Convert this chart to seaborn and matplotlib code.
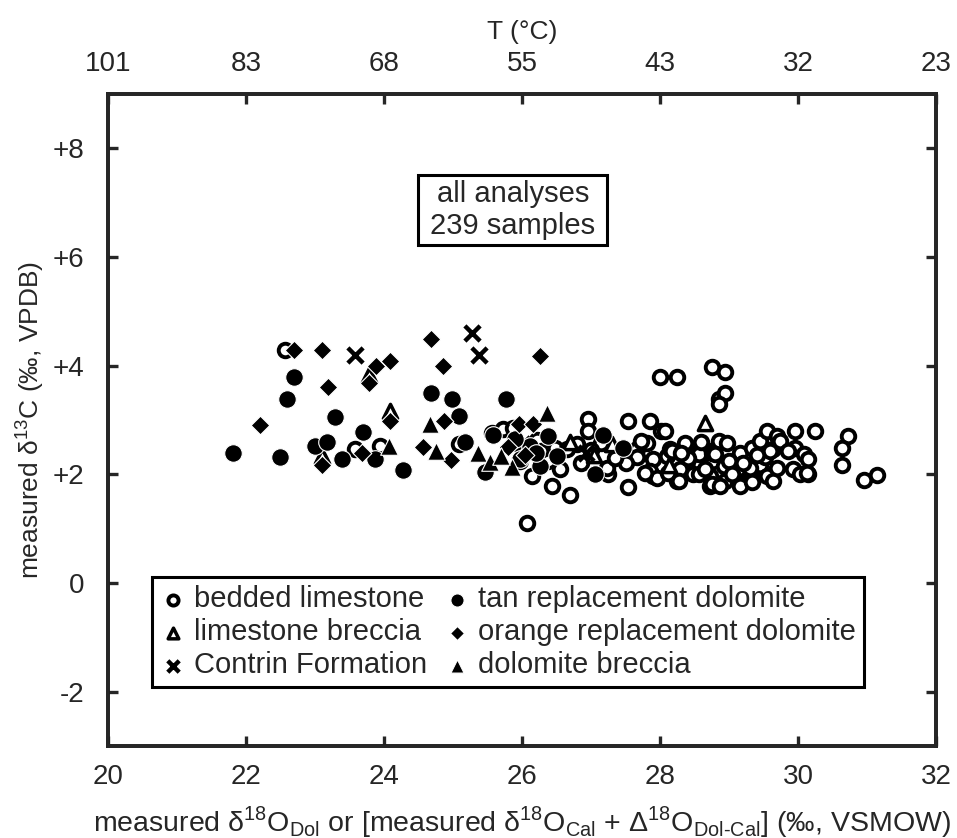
import pandas as pd
import seaborn as sns
import matplotlib.pyplot as plt
from matplotlib.patches import Rectangle

# bedded limestone (open circles)
bl_x = [22.57, 23.58, 23.94, 25.08, 25.56, 25.73, 25.87, 26.21, 26.28, 26.48,
        26.65, 26.14, 26.55, 26.43, 26.70, 25.97, 26.38, 26.07, 26.96, 26.96,
        27.54, 27.86, 28.02, 27.15, 27.54, 27.25, 27.23, 27.66, 27.81, 27.90,
        27.90, 28.10, 27.73, 27.66, 27.86, 27.95, 27.78, 28.14, 28.36, 28.29,
        28.53, 28.58, 28.72, 28.77, 28.72, 28.48, 28.24, 28.12, 28.72, 28.00,
        28.24, 28.75, 28.94, 28.85, 28.94, 28.85, 28.07, 28.17, 28.56, 28.75,
        28.85, 28.97, 29.16, 29.16, 29.33, 29.45, 29.55, 29.64, 29.96, 29.96,
        29.93, 30.25, 30.08, 30.15, 30.15, 30.03, 29.45, 29.55, 29.64, 28.75,
        28.94, 29.16, 29.35, 28.27, 28.56, 30.73, 30.63, 30.63, 30.95, 31.14,
        29.69, 29.74, 28.80, 28.92, 28.87, 29.13, 29.52, 29.59, 29.30, 29.33,
        29.69, 29.86, 30.13, 29.00, 29.05, 28.65, 28.40, 28.30, 29.20, 29.40,
        28.60, 27.50, 27.35, 26.85, 26.80, 27.00]
bl_y = [4.29, 2.46, 2.52, 2.55, 2.77, 2.83, 2.86, 2.64, 2.43, 2.49,
        2.46, 1.97, 2.09, 1.79, 1.62, 2.25, 2.25, 1.10, 3.01, 2.80,
        2.98, 2.98, 2.80, 2.58, 1.76, 2.00, 2.12, 2.46, 2.58, 2.28,
        1.97, 2.34, 2.61, 2.31, 2.06, 1.94, 2.03, 2.46, 2.58, 2.09,
        2.40, 2.18, 2.43, 2.25, 1.97, 2.00, 1.88, 2.03, 1.79, 3.80,
        3.80, 3.98, 3.88, 3.38, 3.50, 3.29, 2.80, 2.43, 2.37, 2.40,
        2.61, 2.58, 2.40, 2.06, 2.49, 2.61, 2.80, 2.46, 2.80, 2.49,
        2.09, 2.80, 2.37, 2.28, 2.00, 2.00, 2.18, 1.97, 1.88, 1.82,
        1.88, 1.79, 1.91, 1.88, 2.00, 2.70, 2.49, 2.18, 1.90, 1.98,
        2.70, 2.61, 2.37, 2.15, 1.79, 2.09, 2.31, 2.43, 2.12, 1.85,
        2.12, 2.43, 2.03, 2.25, 2.00, 2.10, 2.30, 2.40, 2.20, 2.35,
        2.60, 2.20, 2.30, 2.20, 2.55, 2.45]

# limestone breccia (open triangles)
lb_x = [28.65, 28.13, 23.78, 24.09, 23.10, 27.05, 26.70, 27.30]
lb_y = [2.95, 2.18, 3.83, 3.16, 2.34, 2.35, 2.60, 2.55]

# Contrin Formation (crosses)
cf_x = [23.58, 25.27, 25.37, 26.93, 26.00]
cf_y = [4.20, 4.60, 4.20, 2.40, 2.55]

# tan replacement dolomite (filled circles)
td_x = [22.70, 22.59, 23.29, 23.70, 23.00, 23.18, 23.39, 23.87, 24.28, 21.81,
        22.49, 24.68, 24.98, 25.77, 25.08, 25.17, 25.46, 25.58, 26.38, 26.12,
        25.97, 26.26, 26.50, 27.06, 27.18, 27.47, 25.90, 26.20]
td_y = [3.80, 3.39, 3.06, 2.78, 2.52, 2.59, 2.29, 2.29, 2.08, 2.40,
        2.31, 3.49, 3.39, 3.39, 3.08, 2.59, 2.04, 2.73, 2.70, 2.52,
        2.28, 2.16, 2.34, 2.00, 2.73, 2.49, 2.65, 2.40]

# orange replacement dolomite (filled diamonds)
od_x = [22.70, 23.10, 23.88, 24.09, 24.68, 24.86, 23.19, 23.78, 24.09, 24.87,
        22.20, 23.10, 23.68, 24.57, 24.97, 26.26, 25.95, 26.16, 25.80, 26.05]
od_y = [4.29, 4.28, 4.00, 4.09, 4.50, 3.99, 3.60, 3.69, 2.99, 2.99,
        2.90, 2.18, 2.39, 2.50, 2.27, 4.18, 2.92, 2.92, 2.50, 2.35]

# dolomite breccia (filled triangles)
db_x = [24.67, 24.07, 24.76, 26.36, 25.36, 25.54, 25.86, 25.70]
db_y = [2.92, 2.52, 2.43, 3.12, 2.40, 2.23, 2.14, 2.34]

x_ticks = [20, 22, 24, 26, 28, 30, 32]
temp_labels = ['101', '83', '68', '55', '43', '32', '23']
y_ticks = [-2, 0, 2, 4, 6, 8]
y_tick_labels = ['-2', '0', '+2', '+4', '+6', '+8']

sns.set_theme(style='white')
plt.rcParams['font.family'] = ['Liberation Sans', 'DejaVu Sans']
plt.rcParams['mathtext.fontset'] = 'custom'
plt.rcParams['mathtext.rm'] = 'Liberation Sans'

fig = plt.figure(figsize=(9.57, 8.38), dpi=100)
ax = fig.add_axes([0.1129, 0.1098, 0.8652, 0.778])

groups = [
    ('bedded limestone', bl_x, bl_y, dict(marker='o', s=95, color='white', edgecolor='black', linewidth=2.8)),
    ('limestone breccia', lb_x, lb_y, dict(marker='^', s=105, color='white', edgecolor='black', linewidth=2.5)),
    ('Contrin Formation', cf_x, cf_y, dict(marker='x', s=120, color='black', linewidth=3.2)),
    ('tan replacement dolomite', td_x, td_y, dict(marker='o', s=160, color='black', edgecolor='white', linewidth=0.8)),
    ('orange replacement dolomite', od_x, od_y, dict(marker='D', s=90, color='black', edgecolor='white', linewidth=0.8)),
    ('dolomite breccia', db_x, db_y, dict(marker='^', s=160, color='black', edgecolor='white', linewidth=0.8)),
]
for name, xs, ys, kw in groups:
    df = pd.DataFrame({'x': xs, 'y': ys})
    sns.scatterplot(data=df, x='x', y='y', ax=ax, label=name, zorder=3, **kw)

ax.set_xlim(20, 32)
ax.set_ylim(-3, 9)
ax.set_xticks(x_ticks)
ax.set_yticks(y_ticks)
ax.set_yticklabels(y_tick_labels)
ax.tick_params(direction='in', length=7, width=2.4, labelsize=20, top=False, right=True,
               bottom=True, left=True)
ax.tick_params(axis='x', pad=13)
ax.tick_params(axis='y', pad=17)
for sp in ax.spines.values():
    sp.set_linewidth(2.6)
    sp.set_color('black')

ax.set_xlabel('measured δ$^{\\mathregular{18}}$O$_{\\mathregular{Dol}}$ or [measured δ$^{\\mathregular{18}}$O$_{\\mathregular{Cal}}$'
              ' + Δ$^{\\mathregular{18}}$O$_{\\mathregular{Dol\\text{-}Cal}}$] (‰, VSMOW)', fontsize=20.5, labelpad=10)
ax.set_ylabel('measured δ$^{\\mathregular{13}}$C (‰, VPDB)', fontsize=19, labelpad=5)

ax2 = ax.twiny()
ax2.set_xlim(ax.get_xlim())
ax2.set_xticks(x_ticks)
ax2.set_xticklabels(temp_labels)
ax2.tick_params(direction='in', length=7, width=2.4, labelsize=20, pad=12)
ax2.set_xlabel('T (°C)', fontsize=19, labelpad=9)
for sp in ax2.spines.values():
    sp.set_linewidth(2.6)

# annotation box
ax.add_patch(Rectangle((0.374, 0.768), 0.229, 0.108, transform=ax.transAxes, facecolor='white',
                       edgecolor='black', linewidth=2.2, zorder=4))
ax.text(0.489, 0.822, 'all analyses\n239 samples', transform=ax.transAxes, ha='center', va='center',
        fontsize=21, linespacing=1.2, zorder=5)

handles, labels = ax.get_legend_handles_labels()
leg = ax.legend(handles, labels, ncol=2, loc='upper left', bbox_to_anchor=(0.053, 0.259),
                fontsize=21, markerscale=0.75, frameon=True, fancybox=False, framealpha=1,
                edgecolor='black', handletextpad=0.25, columnspacing=0.6, labelspacing=0.17,
                borderpad=0.28, handlelength=0.9, borderaxespad=0)
leg.get_frame().set_linewidth(2.2)

fig.savefig('out.png', dpi=100)
